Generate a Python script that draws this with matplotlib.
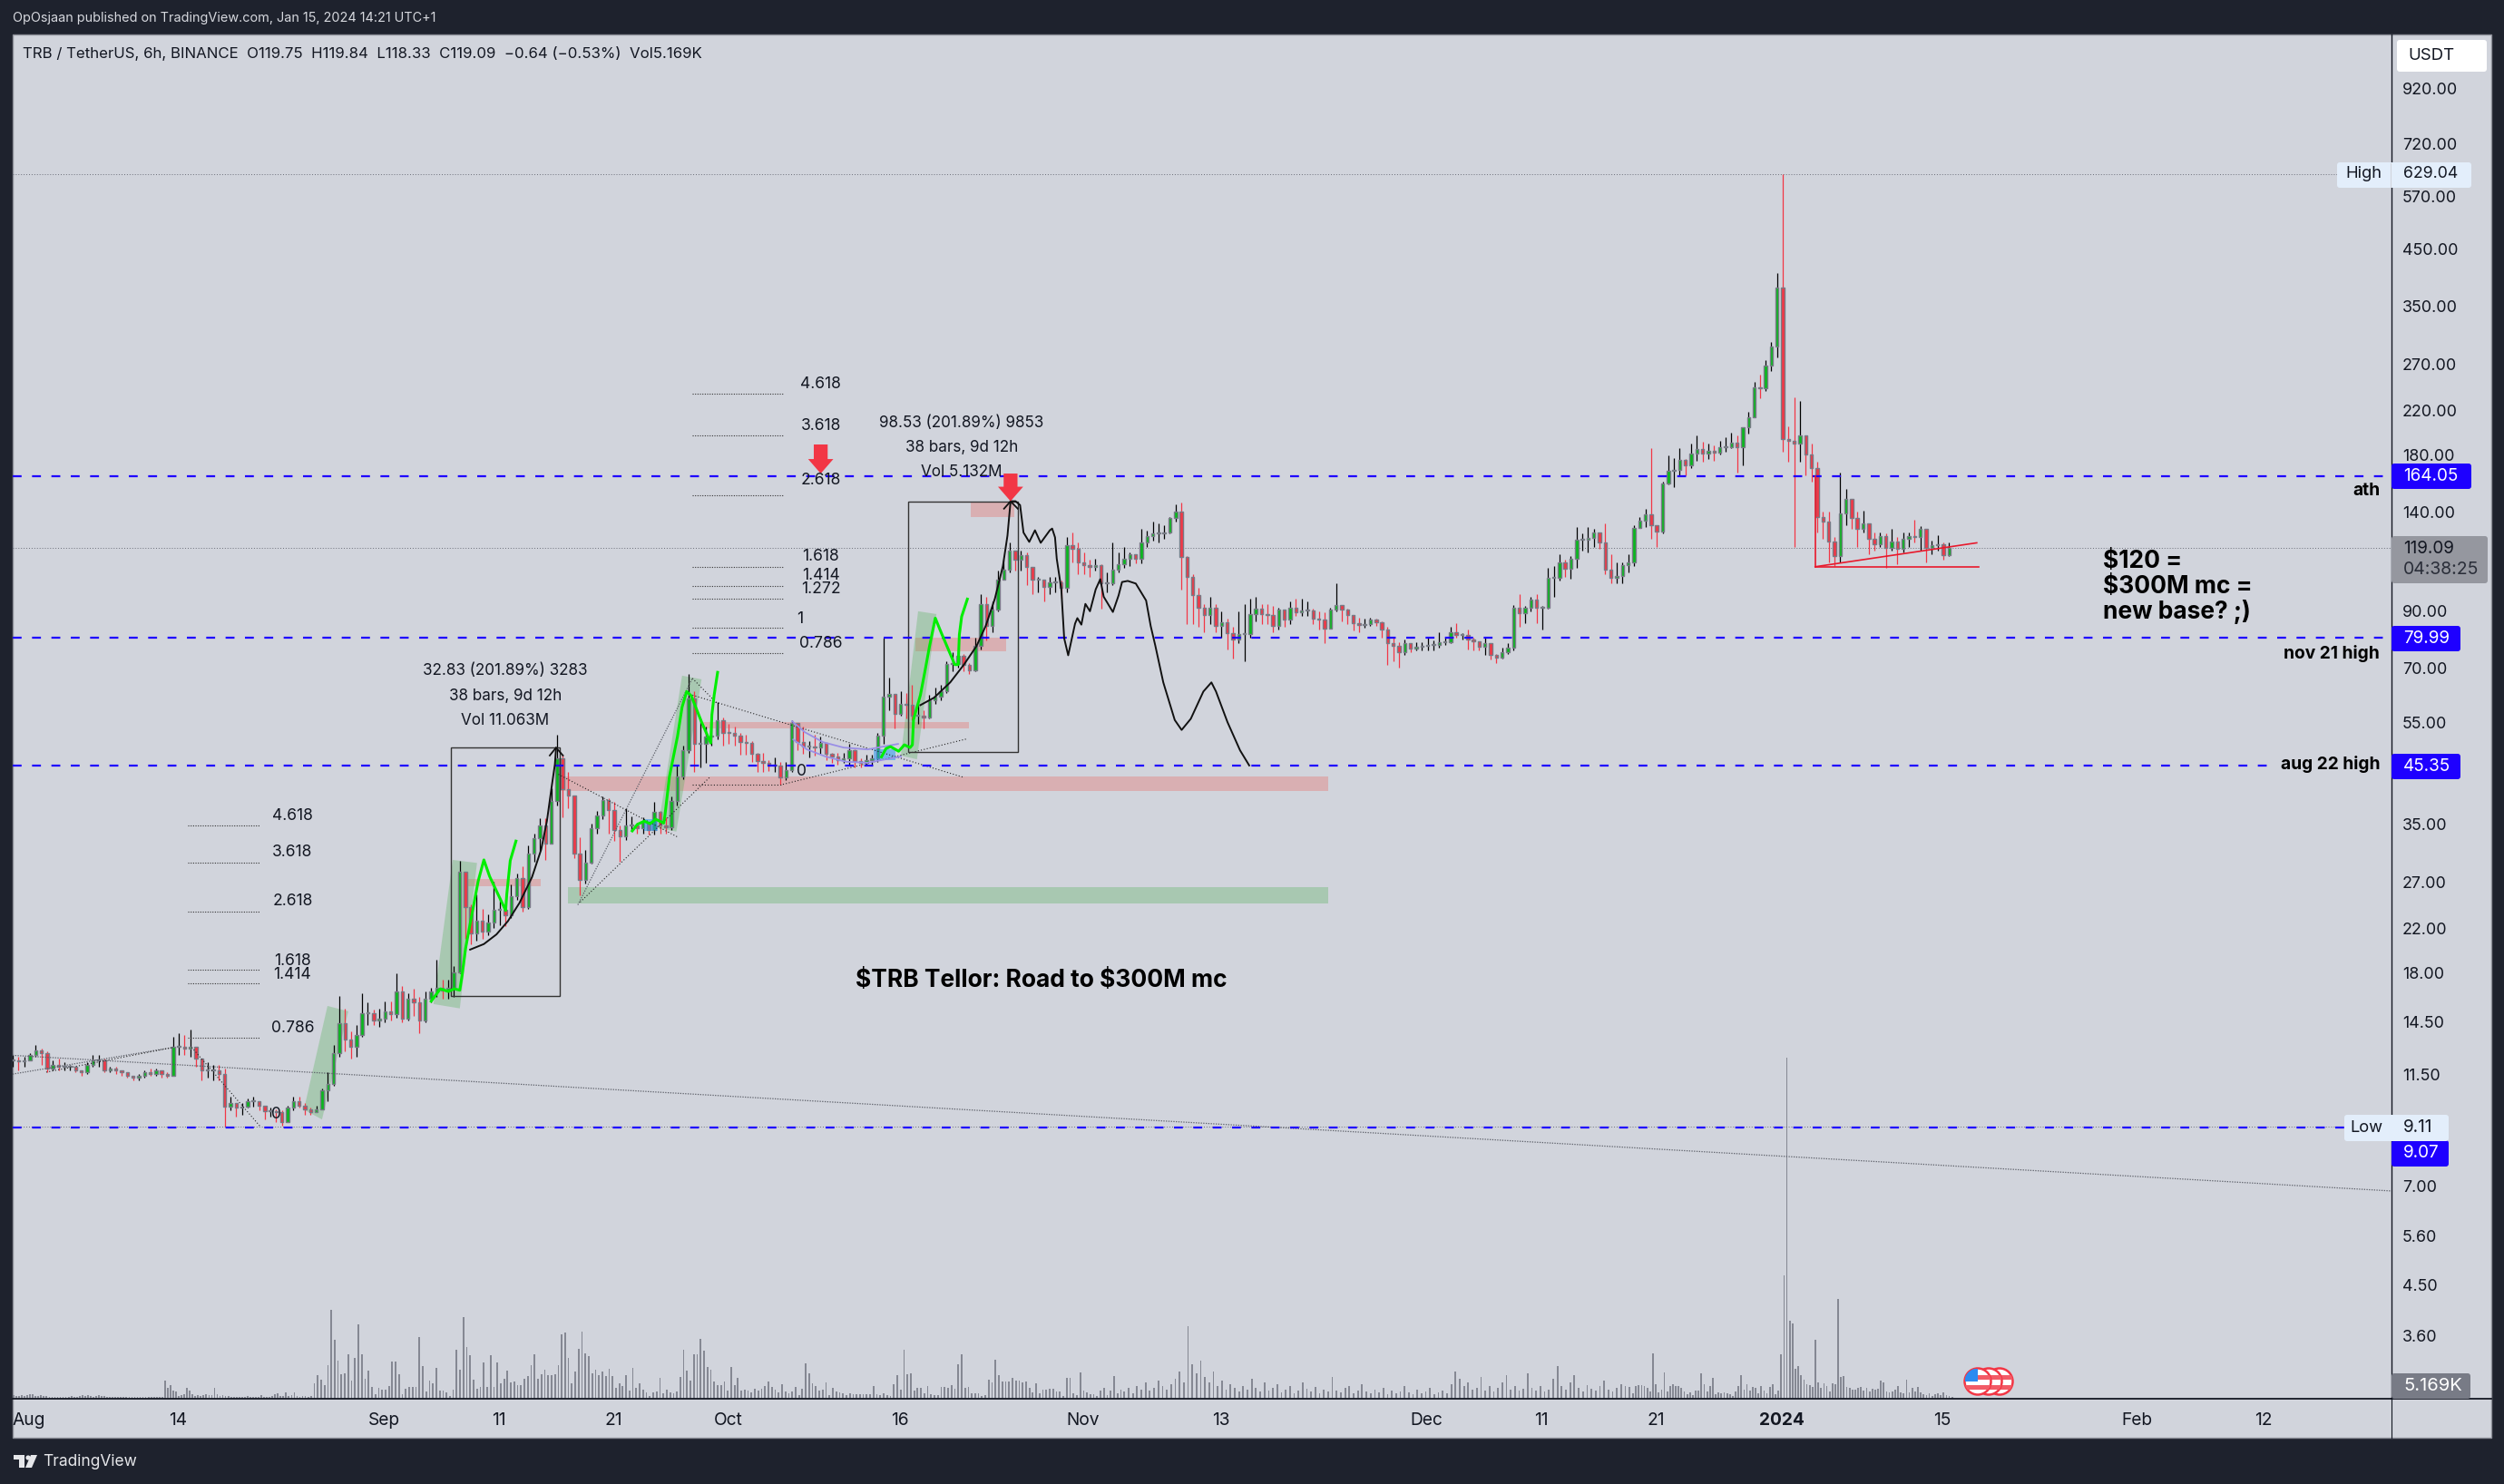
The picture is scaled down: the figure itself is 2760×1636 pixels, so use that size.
import numpy as np
import matplotlib
matplotlib.use('Agg')
import matplotlib.pyplot as plt
from matplotlib.patches import Rectangle, Polygon, Circle, FancyBboxPatch

plt.rcParams['font.family'] = ['Inter', 'DejaVu Sans']

# 12h candles, open = previous close. x is days since 1 Aug 2023
first_day = -1.425
closes = [
    12.2,12.15,12.2,12.5,12.8,12.6,11.8,12.0,11.9,11.9,
    11.9,11.7,11.6,12.0,12.2,12.2,11.7,11.8,11.7,11.6,
    11.4,11.3,11.4,11.6,11.5,11.7,11.5,11.4,13.0,13.0,
    12.9,13.0,12.3,11.7,11.7,11.7,11.5,9.95,10.1,9.9,
    9.95,10.2,10.2,10.0,9.75,9.75,9.7,9.3,9.9,10.2,
    10.0,9.85,9.7,9.85,10.7,11.0,12.6,14.4,13.4,13.0,
    13.7,15.1,15.1,14.6,
    14.7,15.2,15.0,16.6,14.7,16.1,15.8,14.6,16.1,16.6,16.9,16.7,16.9,18.1,
    28.3,24.2,21.5,22.7,21.7,22.6,23.9,23.9,23.3,25.4,
    27.5,24.2,30.7,32.8,34.8,32.1,38.8,46.9,40.8,39.7,
    30.7,27.3,29.4,34.3,36.3,38.9,37.2,34,33.1,34.7,
    34.7,34.3,35.3,34,36.9,34.7,34.5,38.8,43.2,48.6,
    61,50,50,51.5,51.8,55.4,
    52.5,52.3,51.8,50.3,50.1,47.7,46.2,45.8,45.3,45.4,
    43,44.4,54.8,50.3,49.3,49.3,49.1,50.1,47.7,47.1,
    46.4,46.8,48.6,46.2,45.8,46.4,46.8,51.8,61.5,62.3,
    57,59.7,59.3,56.6,56.6,56.2,60.7,61.5,63,71.1,
    71.1,73.9,71,69.2,77.1,93,84.3,90.8,103.6,108.4,
    118,113.4,115.6,109.7,103.6,103.6,100.5,102.3,102.3,100,
    120.7,119,112,
    110.6,109.7,110.6,102,102,108.4,110.9,113.8,116.2,113.8,
    122.4,125.8,127.1,127.1,127.6,136,140.3,114.6,105,96.6,
    91.3,88.5,91.3,84.3,85.7,81.8,79.3,81.4,81.4,88.7,
    91.1,88.7,88.5,84.3,90.7,86.6,91.3,89.7,90.4,90.4,
    87,86.6,83.3,90.7,92.6,90.7,88.5,85.4,84.6,85.1,
    86.6,85.7,83,78,77.1,75.1,78,76.1,76.9,77.1,
    77.4,
    77.6,78.3,78.4,82,81,81,79.3,78.8,76.8,78.2,
    74.2,73.3,75.1,76.6,91.3,89.1,91.3,94.7,91.3,91.5,
    104.4,104.4,112,108.8,113.8,123.5,123.5,124.5,127.6,122.4,
    108.4,104.4,105.4,110.6,112,130.2,134.9,138.7,131.8,128.4,
    159,167.9,168.6,176.3,172,181.4,185.1,181.4,183.6,182,
    186.6,187,190.6,186.6,204,213,244,243,268,
    292,379,193.9,192,190,197,181,170,137,134,122.5,
    115,139,148.4,136,130,133,124,121,125.8,119.5,
    122.5,119,124,125.8,125.4,130,119.5,120.6,121.3,115.6,
    119.09]
highs = [
    12.5,12.4,12.4,12.6,13.1,12.9,12.7,12.2,12.3,12.1,
    12.0,11.9,11.7,12.1,12.5,12.5,12.3,11.9,11.9,11.7,
    11.6,11.4,11.5,11.7,11.8,11.8,11.6,11.6,13.6,13.8,
    13.7,14.0,13.0,12.2,12.1,12.0,12.0,11.8,10.4,10.1,
    10.1,10.3,10.4,10.2,10.0,9.9,9.85,9.8,10.0,10.4,
    10.4,10.1,9.9,10.0,10.8,11.6,13.1,16.3,15.4,13.9,
    14.3,16.5,15.8,15.3,
    15.4,15.9,15.9,18.0,17.0,16.5,16.8,16.2,16.6,16.9,19.1,17.5,17.5,18.6,
    29.7,27.3,24.5,25.6,24.0,23.4,27.0,25.2,25.0,26.7,
    28.0,29.0,31.8,33.5,35.8,35.8,41.0,52.0,47.5,44.0,
    39.5,33.0,31.2,35.0,37.0,39.5,39.2,38.5,34.8,37.5,
    36.2,35.2,36.0,35.3,38.5,37.0,36.0,39.5,45.3,49.5,
    68,63,56,54,55,60,
    56.2,54.5,54,52.5,52,50.5,48,48,46.5,47,
    46,46,55.5,52,54,50.5,52,51.5,49.5,48,
    48,48,50,48.8,46.8,47.5,47.5,52.5,80,67,
    62,63,62.5,65,59.5,58,62,64,65,72,
    75,75.5,74.5,71.5,80,97,96,94,108,113,
    122,118,118,117,108,105,103,105,105,103,
    125,128,122,
    117,113,113.5,111,107,122,117,120,117,115.5,
    130,129,134,133,132,137,145,146,115,106,
    100,93,96,93,90,87,84,90,93,95,
    96,93,93,92,91.5,90,94,95,95,94,
    91,90,89.5,91.5,102,92.5,91,88,87.5,87,
    87.5,87,86,84,80,78.5,79.5,78,78.5,78.5,
    80,
    79,82,80,84,85.5,81.5,83,80,78.5,80,
    78,74.5,76.5,78,92.5,97,92,96,97,92,
    109,110,116,113,115,131,127,131,130,128,
    133,116,112,112,116,132,137,142,186,132,
    160,180,178,186,177,190,197,191,190,188,
    192,195,199,197,204,218,250,258,275,
    298,405,629.04,205,233,229,197,190,175,140,140,
    125,167,155,146,140,141,133,128,128,127,
    130,125,128,128,135,131.5,128,123,126,122,
    122]
lows = [
    11.9,11.7,11.9,12.2,12.4,12.0,11.6,11.7,11.7,11.7,
    11.7,11.6,11.4,11.5,11.9,11.9,11.6,11.6,11.5,11.4,
    11.3,11.2,11.2,11.3,11.4,11.4,11.3,11.3,11.4,12.5,
    12.5,12.4,11.9,11.2,11.3,11.2,11.2,9.11,9.8,9.5,
    9.6,9.9,9.95,9.8,9.4,9.5,9.3,9.15,9.3,9.8,
    9.9,9.6,9.6,9.7,9.85,10.2,10.9,12.4,12.7,12.3,
    12.4,13.6,14.3,14.3,
    14.2,14.5,14.6,14.8,14.5,14.6,14.9,13.8,14.5,15.8,16.2,16.1,16.1,16.2,
    18.0,21.0,20.5,20.8,21.0,21.3,22.0,22.3,22.2,23.0,
    25.0,23.7,24.0,29.5,31.0,29.8,32.0,38.0,36.0,37.5,
    30.0,25.5,26.8,29.3,33.5,35.7,33.5,32.4,29.5,32.5,
    34.0,33.5,33.5,33.4,33.4,33.5,33.5,34.0,38.0,42.7,
    48,44,45,45.8,49.5,51,
    49.5,50,49.5,47.5,47.5,46,44,44,44.2,44,
    41.7,42.5,44,48.5,47.8,47,47.3,47.8,46.5,45.8,
    45.5,45.8,45.5,45,45,45.5,45.5,46,50,58,
    53.5,56.5,56,55.5,54.5,53.5,55.8,59.5,60.5,62.5,
    69,70,69,68,68.8,76,79,82,90,104,
    107,108,108,101,97,98,94,97,98,95,
    98,112,106,
    106,105,108,91,98,101,107,109,110,111.5,
    111.5,120,123,122,124,127,134,99,85,85,
    84,82,85,82,80,76,73,78,72,80,
    86,85,85,82,83,84,85,88,88,88,
    85,83,78,84,90,86,85,82.5,82,83.5,
    84.5,84.5,80,71,72,70,74,75,75.5,75.5,
    75.5,
    75.5,76.5,77.5,78,80,79.5,76,75.5,75.5,74,
    72.5,71.5,73,74.5,75.5,84,85.5,90,85.5,83,
    91,96,103,105,104,109,118,117,120,119,
    106,102,102,102,107,110,132,131,124,120,
    127,158,156,164,165,170,176,175,177,176,
    181,183,186,167,172,198,213,232,240,
    262,278,183,175,120,175,165,160,128,124,112,
    110,112,132,130,120,128,116,118,120,109,
    118,111,117,120,122,118,112,116,118,113,
    115]

# volume in units of 10K, three stretches with the day range each one covers
vol_aug = [4,3,3,4,3,4,5,5,3,3,4,3,3,2,2,2,2,2,2,2,2,3,2,2,3,4,3,4,3,2,3,4,3,3,2,2,2,2,2,2,2,2,2,2,2,2,2,2,2,2,2,2,2,2,2,
           20,12,15,9,8,3,4,5,12,9,5,3,4,3,4,5,4,4,12,5,3,4,3,3,2,2,2,2,2,2,3,2,2,2,2,4,2,2,2,3,5,6,3,3,7,3,4,7,3,2,3,3,2,3]
vol_mid = [17,26,21,15,37,98,65,42,27,28,49,20,45,82,49,22,31,13,5,12,10,10,14,41,41,27,5,11,13,13,13,68,36,8,20,17,34,9,9,7,3,10,
           54,32,90,57,48,21,11,13,40,13,48,13,40,17,22,31,18,19,15,15,22,25,37,49,22,27,32,26,26,27,37,71,73,45,17,30,55,74,50,47,28,32,26,30,25,33,25,12,17,14,26,9,34,12,17,10,7,3,7,8,23,6,10,7,6,8,24,54,31,20,49,49,66,53,35,32,19,15,15,19,9,35,15,23,9,10,9,7,11,9,11,14,19,13,10,7,16,8,6,8,13,4,11,39,28,17,14,9,10,18,4,12,8,7,6,4,6,5,5,5,5,5,5,14,5,4,6,4,3,16,26,10,54,27,28,9,12,12,6,14,5,4,4,13,13,12,15,11,38,49,12,13,6,6,6,3,4,21,18,43,26,19,19,19,23,20,20,18,19,12,7,17,6,10,10,11,11,8,8,3,23,23,6,4,29,9,7,5,5,3,9,12,4,9,25,6,10]
vol_late = [8,12,6,14,10,18,9,12,20,14,10,16,22,30,18,80,38,28,42,24,18,30,14,20,10,16,12,8,14,10,22,12,8,18,9,12,16,7,10,14,6,9,18,11,8,13,6,10,8,24,9,7,12,14,6,9,16,8,6,10,7,12,5,9,6,8,14,7,5,10,6,8,12,5,7,9,6,16,30,22,14,18,10,12,24,9,14,8,12,18,26,10,14,9,11,28,12,9,14,8,10,22,36,14,10,18,26,12,8,15,11,9,14,20,10,8,12,16,14,13]
vol_end = [6,14,15,15,14,12,8,50,16,7,10,29,8,14,16,14,14,12,8,5,7,4,9,9,28,16,8,14,23,5,7,6,7,6,5,3,8,14,26,10,16,9,13,12,6,14,9,6,13,16,5,9,49,
           136,376,86,83,33,36,26,21,16,15,13,65,18,12,17,14,8,17,16,110,24,25,13,12,10,10,12,13,9,12,8,11,10,11,20,18,8,7,8,10,14,7,6,21,7,12,8,13,7,5,4,6,3,5,6,4,7,4,3,2]
vol_ranges = [(-1.35, 24.6), (24.9, 95.3), (95.6, 139.7), (140.0, 167.85)]

# price axis and time axis
price_ticks = [920,720,570,450,350,270,220,180,140,90,70,55,35,27,22,18,14.5,11.5,7,5.6,4.5,3.6]
date_ticks = [0,13,31,41,51,61,76,92,104,122,132,142,153,167,184,195]
date_labels = ['Aug','14','Sep','11','21','Oct','16','Nov','13','Dec','11','21','2024','15','Feb','12']
levels = [164.05, 79.99, 45.35, 9.07]
high_price, low_price, last_price = 629.04, 9.11, 119.09

# drawings on the chart: (day, price) readings
zones_red = [(46.3,113.4,40.5,43.1),(38.2,44.7,26.5,27.4),(58.7,82,53.4,55.1),(77.4,85.3,75.3,79.9),(82.2,86,137,146)]
zone_green = (47,113.4,24.6,26.4)
zones_blue = [(53.7,54.9,33.9,35.7),(73.7,75.6,46.4,48.7)]
slant_days = [[26.05,27.87,25.57,23.99],[36.98,39.1,37.6,35.3],[57,58.7,56.5,54.9],[77.6,79.2,77.5,76.1]]
slant_prices = [[15.57,15.2,9.4,9.82],[29.8,29.4,15.4,15.7],[67.6,66.5,33.8,34.3],[90,88.9,46.6,47.4]]
boxes = [(36.8,46.3,16.26,49.09),(76.7,86.3,48.18,146.71)]

green1_d = [35.1,35.9,36.6,37.1,37.6,37.8,38.1,38.6,39.2,39.7,40.2,41.6,41.7,42.0,42.5]
green1_p = [15.9,16.8,16.6,16.8,16.7,17.85,20.1,23.05,27.1,29.8,27.7,23.8,25.6,29.7,32.4]
green2_d = [52.65,53.1,53.7,54.2,54.7,55.4,55.5,55.9,56.6,57,57.4,57.8,58.7,59.5,59.6,59.8,60.1]
green2_p = [33.9,34.9,35.4,35,35.7,35.1,36.3,43.2,51.6,58.8,63,61.8,55,50.1,56.8,62,68.6]
green3_d = [74.4,74.8,75.2,75.9,76.4,76.9,77.1,77.2,77.8,78.2,78.6,79.1,79.6,80.8,81.1,81.2,81.4,81.9]
green3_p = [47.1,48.9,49.3,48.3,49.7,49.1,49.7,55.6,62,69,77.1,87.3,82,71,71,81.1,87.9,95]
arc1_d = [38.5,39.7,40.8,41.8,42.8,43.9,44.7,45.2,45.6,45.9,46]
arc1_p = [20,20.5,21.4,22.7,24.6,27.6,31.2,35.4,41,45.6,49]
arc2_d = [77.8,79,80.4,81.6,82.7,83.5,84.3,85,85.4,85.67]
arc2_p = [59.3,61.3,65.6,71,77.1,84.3,95.2,110,126,146.8]
path_d = [85.67,86.1,86.5,86.7,86.8,87.3,87.8,88.3,89.1,89.3,89.55,89.7,90.1,90.35,90.7,91.3,91.5,91.85,92.2,92.6,93.1,93.5,93.8,94.6,95.1,95.4,95.9,96.6,97.5,97.9,98.3,99,100,100.6,101.4,102.5,103.2,103.6,104.6,105.7,106.5]
path_p = [146.8,146.8,144.3,133,127.7,122.5,129,122,129,130,125,113.7,99.2,79.8,74,85.2,87.3,84.8,93,90,99.2,103.8,96,89.7,96.6,102.5,103,101.8,94.4,84.3,77.3,65.6,55.5,53.1,55.8,63,65.6,63,55,48.5,45.35]
purple_d = [[66.6,67.7,69.3,71.1,73.2,75.85],[66.7,67.9,69.5,71.3,73.2,76.1]]
purple_p = [[55.2,52.6,50.3,49.1,48.7,49.9],[50.9,48.7,47.2,46.1,45.9,47.2]]
dotted_black = [((1.5,12.6),(11.6,12.95)),((14.2,20.2),(12.95,9.1)),((46.2,56.6),(43.6,33)),
                ((48.1,59.4),(24.7,43)),((57.9,60),(66.8,59.9)),((57.9,81.6),(62,43)),
                ((57.9,65.8),(41.7,41.7)),((65.8,81.8),(41.7,51))]
dotted_grey = [((-1.43,206.2),(12.5,6.84)),((-1.43,12.6),(11.5,12.95)),((47.9,57.9),(24.4,66.8))]
fib1_prices = [34.7,29.4,23.7,18.3,17.2,13.5]
fib1_names = ['4.618','3.618','2.618','1.618','1.414','0.786']
fib1_text = [36.2,30.8,24.8,19,17.9,14.1]
fib2_prices = [237,196.8,151,109.7,100.9,95,83.8,74.6]
fib2_names = ['4.618','3.618','2.618','1.618','1.414','1.272','1','0.786']
fib2_text = [247,205,161,115,105.5,99.4,87,77.8]
chevrons = [((45.45,46,46.6),(47.4,49.09,47.4)),((85.1,85.67,86.3),(142,146.71,142))]
red_arrows = [(69.1,166,188.9),(85.67,146.8,166)]
red_lines = [((155.9,170.2),(109.7,109.7)),((155.9,170),(109.7,122)),((155.9,155.9),(109.7,164))]

panel, dark = '#d1d4dc', '#1e222d'
blue = '#1e00ff'
W, H = 2760, 1636
left, right, top, bottom = 14, 2636, 38, 1542

fig = plt.figure(figsize=(W / 100, H / 100), dpi=100, facecolor=dark)
pos = [left / W, (H - bottom) / H, (right - left) / W, (bottom - top) / H]

bg = fig.add_axes([0, 0, 1, 1], zorder=0)
bg.set_xlim(0, W)
bg.set_ylim(H, 0)
bg.axis('off')
bg.add_patch(Rectangle((left, top), 2746 - left, 1585 - top, fc=panel, ec='#8a8d96', lw=1))

ax = fig.add_axes(pos, zorder=2, facecolor='none')
ax.set_yscale('log')
ax.set_xlim(first_day, 206.2)
ax.set_ylim(2.716, 1169)

# volume
vol = fig.add_axes(pos, zorder=1, facecolor='none')
vol.set_xlim(first_day, 206.2)
vol.set_ylim(0, bottom - top)
vol.axis('off')
for vals, (d0, d1) in zip([vol_aug, vol_mid, vol_late, vol_end], vol_ranges):
    vol.bar(np.linspace(d0, d1, len(vals)), vals, width=0.14, color='#787b86', alpha=0.85, lw=0)

# candles
closes = np.array(closes, float)
opens = np.r_[closes[0], closes[:-1]]
days = first_day + 0.5 * np.arange(len(closes))
up = closes >= opens
hi = np.maximum(highs, np.maximum(opens, closes))
lo = np.minimum(lows, np.minimum(opens, closes))
ax.vlines(days[up], lo[up], hi[up], color='#000000', lw=0.9, zorder=3)
ax.vlines(days[~up], lo[~up], hi[~up], color='#f23645', lw=0.9, zorder=3)
body_low = np.minimum(opens, closes)
body_h = np.maximum(np.abs(closes - opens), body_low * 0.004)
ax.bar(days, body_h, bottom=body_low, width=0.27, color=np.where(up, '#08b81c', '#f23645'),
       edgecolor='#787b86', lw=1.0, zorder=4)

# zones
for d0, d1, p0, p1 in zones_red:
    ax.add_patch(Rectangle((d0, p0), d1 - d0, p1 - p0, fc='#f44336', alpha=0.25, lw=0, zorder=2))
d0, d1, p0, p1 = zone_green
ax.add_patch(Rectangle((d0, p0), d1 - d0, p1 - p0, fc='#4caf50', alpha=0.3, lw=0, zorder=2))
for d0, d1, p0, p1 in zones_blue:
    ax.add_patch(Rectangle((d0, p0), d1 - d0, p1 - p0, fc='#2196f3', alpha=0.5, lw=0, zorder=5))
for sd, sp in zip(slant_days, slant_prices):
    ax.add_patch(Polygon(list(zip(sd, sp)), fc='#4caf50', alpha=0.3, lw=0, zorder=2))
for d0, d1, p0, p1 in boxes:
    ax.add_patch(Rectangle((d0, p0), d1 - d0, p1 - p0, fc='none', ec='#333333', lw=1.0, zorder=6))

# level lines
for lv in levels:
    ax.plot([first_day, 206.2], [lv, lv], color=blue, lw=1.6, ls=(0, (4.4, 5.2)), zorder=6)
for lv in [high_price, last_price, low_price]:
    ax.plot([first_day, 206.2], [lv, lv], color='#6a6d78', lw=0.7, ls=(0, (1, 2)), zorder=2)

# hand drawn lines
for dx, dy in dotted_grey:
    ax.plot(dx, dy, color='#5a5d66', lw=0.9, ls=(0, (1, 1.2)), zorder=5)
for dx, dy in dotted_black:
    ax.plot(dx, dy, color='#222222', lw=0.8, ls=(0, (1, 2)), zorder=5)
for dx, dy in zip(purple_d, purple_p):
    ax.plot(dx, dy, color='#9a8fe6', lw=1.3, zorder=6)
for dx, dy in [(green1_d, green1_p), (green2_d, green2_p), (green3_d, green3_p)]:
    ax.plot(dx, dy, color='#00ee00', lw=2.2, zorder=7, solid_joinstyle='round')
ax.plot(arc1_d, arc1_p, color='#111111', lw=1.4, zorder=7)
ax.plot(arc2_d, arc2_p, color='#111111', lw=1.4, zorder=7)
ax.plot(path_d, path_p, color='#111111', lw=1.4, zorder=7)
for dx, dy in chevrons:
    ax.plot(dx, dy, color='#111111', lw=1.3, zorder=7)
for dx, dy in red_lines:
    ax.plot(dx, dy, color='#e8192c', lw=1.2, zorder=7)
for d, tip, base in red_arrows:
    ax.annotate('', xy=(d, tip), xytext=(d, base), zorder=8,
                arrowprops=dict(width=11, headwidth=20, headlength=11.5, shrink=0, color='#f23645', lw=0))

# fib labels
txt = '#131722'
for p, name, tp in zip(fib1_prices, fib1_names, fib1_text):
    ax.plot([13.85, 20.2], [p, p], color='#333333', lw=0.8, ls=(0, (1, 1.4)), zorder=5)
    ax.text(23, tp, name, ha='center', va='center', fontsize=12.6, color=txt, zorder=8)
for p, name, tp in zip(fib2_prices, fib2_names, fib2_text):
    ax.plot([57.9, 65.8], [p, p], color='#333333', lw=0.8, ls=(0, (1, 1.4)), zorder=5)
    ax.text(69.1 if name != '1' else 67.3, tp, name, ha='center', va='center', fontsize=12.6, color=txt, zorder=8)
ax.text(67.4, 44.2, '0', ha='center', va='center', fontsize=12.6, color=txt, zorder=8)
ax.text(21.6, 9.6, '0', ha='center', va='center', fontsize=12.6, color=txt, zorder=8)

# measure texts
ax.text(41.55, 69.2, '32.83 (201.89%) 3283', ha='center', va='center', fontsize=12.3, color=txt, zorder=8)
ax.text(41.55, 61.7, '38 bars, 9d 12h', ha='center', va='center', fontsize=12.3, color=txt, zorder=8)
ax.text(41.55, 55.3, 'Vol 11.063M', ha='center', va='center', fontsize=12.3, color=txt, zorder=8)
ax.text(81.4, 208, '98.53 (201.89%) 9853', ha='center', va='center', fontsize=12.3, color=txt, zorder=8)
ax.text(81.4, 186.5, '38 bars, 9d 12h', ha='center', va='center', fontsize=12.3, color=txt, zorder=8)
ax.text(81.4, 167, 'Vol 5.132M', ha='center', va='center', fontsize=12.3, color=txt, zorder=8)

# axes
ax.yaxis.tick_right()
ax.set_yticks(price_ticks, [f'{p:.2f}' for p in price_ticks])
ax.yaxis.set_minor_locator(matplotlib.ticker.NullLocator())
ax.tick_params(axis='y', length=0, pad=8.6, labelsize=12.9, labelcolor=txt)
ax.set_xticks(date_ticks, date_labels)
ax.tick_params(axis='x', length=0, pad=11, labelsize=13.8, labelcolor=txt)
ax.get_xticklabels()[date_labels.index('2024')].set_fontweight('bold')
for s in ['left', 'top']:
    ax.spines[s].set_visible(False)
ax.spines['right'].set_color('#131722')
ax.spines['bottom'].set_color('#131722')
ax.spines['right'].set_linewidth(1.0)
ax.spines['bottom'].set_linewidth(1.3)

# layer with the page furniture, in pixels
ov = fig.add_axes([0, 0, 1, 1], zorder=5, facecolor='none')
ov.set_xlim(0, W)
ov.set_ylim(H, 0)
ov.axis('off')
ov.plot([right, right], [bottom, 1585], color='#131722', lw=0.8)
ov.plot([right, 2746], [bottom, bottom], color='#131722', lw=1.3)


def tag(x0, x1, y0, y1, color):
    ov.add_patch(FancyBboxPatch((x0 + 2, y0 + 2), x1 - x0 - 4, y1 - y0 - 4,
                                boxstyle='round,pad=2,rounding_size=3', fc=color, ec='none', zorder=3))


ov.text(14, 20, 'OpOsjaan published on TradingView.com, Jan 15, 2024 14:21 UTC+1',
        color='#d6d8de', fontsize=10.4, va='center')
ov.text(25, 59, 'TRB / TetherUS, 6h, BINANCE  O119.75  H119.84  L118.33  C119.09  \u22120.64 (\u22120.53%)  Vol5.169K',
        color=txt, fontsize=12.1, va='center')
tag(2642, 2741, 44, 79, '#ffffff')
ov.text(2654, 61.5, 'USDT', color=txt, fontsize=13.4, va='center', zorder=4)

tag(2576, 2724, 179, 207, '#e3eefb')
ov.plot([2635, 2635], [180, 206], color='#d1d4dc', lw=0.8, zorder=4)
ov.text(2605, 192, 'High', color=txt, fontsize=13.2, ha='center', va='center', zorder=4)
ov.text(2649, 192, '629.04', color=txt, fontsize=12.8, va='center', zorder=4)

for x1, y0, y1, label in [(2724, 511, 539, '164.05'), (2712, 690, 718, '79.99'),
                          (2712, 831, 859, '45.35'), (2699, 1257, 1286, '9.07')]:
    tag(right, x1, y0, y1, blue)
    ov.text(2649, (y0 + y1) / 2, label, color='white', fontsize=13.6, va='center', zorder=4)

tag(2584, 2699, 1229, 1258, '#e3eefb')
ov.text(2608, 1243, 'Low', color=txt, fontsize=13.2, ha='center', va='center', zorder=4)
ov.text(2649, 1243, '9.11', color=txt, fontsize=13.6, va='center', zorder=4)

tag(right, 2742, 591, 643, '#95979f')
ov.text(2649, 605, '119.09', color=txt, fontsize=13.6, va='center', zorder=4)
ov.text(2649, 628, '04:38:25', color='#2a2e39', fontsize=14, va='center', zorder=4)

tag(right, 2723, 1514, 1542, '#787b86')
ov.text(2649, 1528, '5.169K', color='white', fontsize=14.5, va='center', zorder=4)

# level names and comments
for x, y, s in [(2623, 541, 'ath'), (2623, 720, 'nov 21 high')]:
    ov.text(x, y, s, ha='right', va='center', fontsize=13.8, fontweight='bold', color='#000000', zorder=4)
ov.text(2623, 843, 'aug 22 high', ha='right', va='center', fontsize=13.8, fontweight='bold', color='#000000', zorder=4,
        bbox=dict(fc=panel, ec='none', pad=3))
ov.text(1148, 1081, '$TRB Tellor: Road to $300M mc', ha='center', va='center', fontsize=19,
        fontweight='bold', color='#000000', parse_math=False, zorder=4)
for y, s in [(619, '$120 ='), (647, '$300M mc ='), (675, 'new base? ;)')]:
    ov.text(2318, y, s, va='center', fontsize=19, fontweight='bold', color='#000000', parse_math=False, zorder=4)

# economic event flags
for cx in [2204, 2192, 2180]:
    ring = Circle((cx, 1523), 14.5, fc='white', ec='#f23645', lw=1.8, zorder=6)
    ov.add_patch(ring)
    for sy in [1516, 1527]:
        r = Rectangle((cx - 15, sy), 30, 5, fc='#f25b66', lw=0, zorder=6)
        ov.add_patch(r)
        r.set_clip_path(ring)
c = Rectangle((2166, 1509), 14, 14, fc='#2d8bf0', lw=0, zorder=6)
ov.add_patch(c)
c.set_clip_path(Circle((2180, 1523), 14.5, transform=ov.transData))

# footer logo
ov.add_patch(Polygon([(15, 1604), (27, 1604), (27, 1618), (21, 1618), (21, 1609), (15, 1609)], fc='#e6e7ea', lw=0))
ov.add_patch(Circle((31, 1607), 2.6, fc='#e6e7ea', lw=0))
ov.add_patch(Polygon([(34, 1604), (41, 1604), (35, 1618), (28, 1618)], fc='#e6e7ea', lw=0))
ov.text(47, 1611, 'TradingView', color='#e6e7ea', fontsize=12.5, va='center')

fig.savefig('out.png', dpi=100, facecolor=dark)
